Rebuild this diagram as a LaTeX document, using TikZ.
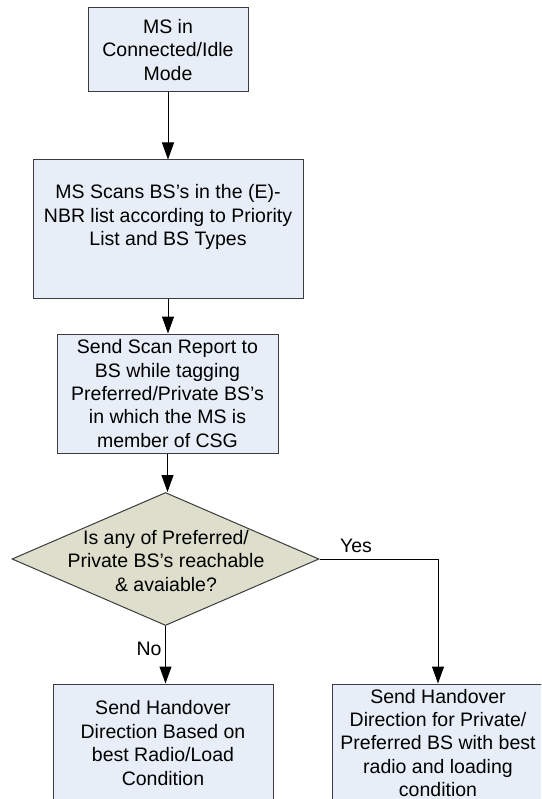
\documentclass[tikz,border=0pt]{standalone}
\usepackage{fontspec}
\setmainfont{Liberation Sans}
\usetikzlibrary{shapes.geometric,arrows.meta}
\definecolor{boxfill}{RGB}{232,238,247}
\definecolor{decfill}{RGB}{221,222,204}
\definecolor{edge}{RGB}{60,60,60}
\begin{document}
\begin{tikzpicture}[x=1pt,y=-1pt,
  txt/.style={align=center,inner sep=0pt,font=\fontsize{19.5}{23.4}\selectfont,text=black},
  proc/.style={txt,draw=edge,fill=boxfill,line width=1pt,rectangle},
  decision/.style={draw=edge,fill=decfill,line width=1pt,diamond,inner sep=0pt},
  arr/.style={draw=black,line width=1pt,-{Triangle[length=17pt,width=12pt]}},
  link/.style={draw=black,line width=1pt}
]
\useasboundingbox (0,0) rectangle (541,799);
\clip (0,0) rectangle (541,799);

% process steps
\node[proc,minimum width=160pt,minimum height=84pt] (b1) at (168,50)
  {MS in\\Connected/Idle\\Mode};
\node[proc,minimum width=270pt,minimum height=138pt] (b2) at (168,229) {};
\node[txt] (t2) at (168,217)
  {MS Scans BS’s in the (E)-\\NBR list according to Priority\\List and BS Types};
\node[proc,minimum width=221pt,minimum height=119pt] (b3) at (167.5,393.5)
  {Send Scan Report to\\BS while tagging\\Preferred/Private BS’s\\in which the MS is\\member of CSG};

% decision
\node[decision,minimum width=307pt,minimum height=133pt] (dec) at (165.5,559) {};
\node[txt] (tdec) at (166,561)
  {Is any of Preferred/\\Private BS’s reachable\\\& avaiable?};

% outcomes
\node[proc,minimum width=220pt,minimum height=118pt] (b4) at (163,743)
  {Send Handover\\Direction Based on\\best Radio/Load\\Condition};
\node[proc,minimum width=212pt,minimum height=118pt] (b5) at (438,743)
  {Send Handover\\Direction for Private/\\Preferred BS with best\\radio and loading\\condition};

% connectors
\draw[arr] (b1.south) -- (b1.south |- b2.north);
\draw[arr] (b2.south) -- (b2.south |- b3.north);
\draw[arr] (b3.south) -- (b3.south |- dec.north);
\draw[arr] (dec.east) -| (b5.north);
\draw[arr] (dec.south) -- (dec.south |- b4.north);

% branch labels
\node[txt] (yes) at (356,546) {Yes};
\node[txt] (no) at (149,649) {No};
\end{tikzpicture}
\end{document}
